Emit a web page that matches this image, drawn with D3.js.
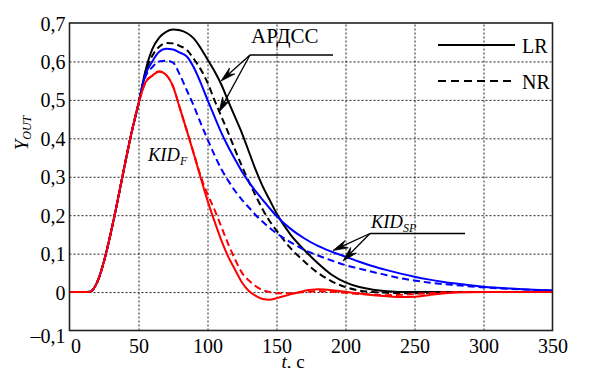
<!DOCTYPE html>
<html>
<head>
<meta charset="utf-8">
<script src="https://cdn.jsdelivr.net/npm/d3@7"></script>
<style>
  html, body { margin: 0; padding: 0; background: #fff; }
  svg { display: block; }
  svg text { font-family: "Liberation Serif", "DejaVu Serif", "Times New Roman", Times, serif !important; fill: #000; }
</style>
</head>
<body>
<svg id="chart" width="608" height="368"></svg>
<script>
// ---- data ----
const timeS = [0,10,15,20,25,30,35,40,45,50,55,60,65,70,75,80,85,90,95,100,105,110,115,120,125,130,135,140,145,150,160,170,180,190,200,210,220,230,240,250,260,270,280,300,320,350];
const rise = [0,0,0.001,0.025,0.08,0.155,0.24,0.33,0.415,0.49];

const lrArdss = rise.concat([0.575,0.632,0.662,0.677,0.683,0.681,0.674,0.66,0.635,0.605,0.575,0.54,0.497,0.455,0.413,0.365,0.317,0.275,0.24,0.205,0.15,0.11,0.075,0.045,0.025,0.013,0.006,0.002,0,0,0,0,0,0,0,0]);
const nrArdss = rise.concat([0.57,0.615,0.638,0.648,0.647,0.64,0.63,0.607,0.58,0.545,0.5,0.457,0.415,0.37,0.327,0.287,0.25,0.215,0.185,0.16,0.115,0.08,0.05,0.028,0.013,0.004,0,-0.002,-0.003,-0.003,-0.002,-0.001,0,0,0,0]);
const lrKidSp = rise.concat([0.565,0.6,0.625,0.633,0.631,0.623,0.613,0.585,0.545,0.5,0.457,0.415,0.378,0.345,0.313,0.286,0.262,0.24,0.218,0.198,0.165,0.14,0.12,0.105,0.092,0.079,0.067,0.057,0.048,0.04,0.033,0.027,0.022,0.014,0.009,0.004]);
const nrKidSp = rise.concat([0.56,0.585,0.6,0.602,0.597,0.565,0.525,0.485,0.44,0.398,0.357,0.32,0.29,0.263,0.24,0.22,0.2,0.183,0.167,0.153,0.13,0.11,0.095,0.082,0.07,0.061,0.052,0.044,0.036,0.03,0.025,0.021,0.018,0.012,0.008,0.004]);
const lrKidF = rise.concat([0.545,0.563,0.574,0.565,0.535,0.478,0.42,0.36,0.298,0.238,0.185,0.135,0.092,0.058,0.025,0.003,-0.01,-0.018,-0.02,-0.016,-0.006,0.003,0.007,0.005,0.001,-0.004,-0.008,-0.011,-0.013,-0.012,-0.008,-0.004,-0.001,0,0,0]);
const nrKidF = rise.concat([0.545,0.563,0.574,0.565,0.535,0.478,0.42,0.362,0.302,0.255,0.215,0.17,0.125,0.085,0.05,0.03,0.015,0.005,0,-0.003,-0.003,0,0.002,0.001,-0.002,-0.005,-0.007,-0.008,-0.007,-0.005,-0.003,-0.001,0,0,0,0]);

const xTicks = [0,50,100,150,200,250,300,350];
const yTicks = [-0.1,0,0.1,0.2,0.3,0.4,0.5,0.6,0.7];
const yTickLabels = ["\u20130,1","0","0,1","0,2","0,3","0,4","0,5","0,6","0,7"];
const legendNames = ["LR","NR"];

const seriesList = [
  {values: lrArdss, color: "#000000", dash: null},
  {values: nrArdss, color: "#000000", dash: "7,4"},
  {values: lrKidSp, color: "#0000ff", dash: null},
  {values: nrKidSp, color: "#0000ff", dash: "7,4"},
  {values: nrKidF,  color: "#ff0000", dash: "7,4"},
  {values: lrKidF,  color: "#ff0000", dash: null}
];

// ---- layout ----
const SERIF = "Liberation Serif";
const L = 69.5, R = 552.5, T = 23, B = 330.5;
const svg = d3.select("#chart");
const x = d3.scaleLinear().domain([0,350]).range([L,R]);
const y = d3.scaleLinear().domain([-0.1,0.7]).range([B,T]);

svg.append("defs").append("clipPath").attr("id","clip")
  .append("rect").attr("x",L).attr("y",T).attr("width",R-L).attr("height",B-T);

// grid
const gx = svg.append("g").attr("transform",`translate(0,${B})`)
  .call(d3.axisBottom(x).tickValues(xTicks.slice(1,-1)).tickSize(-(B-T)).tickFormat(""));
gx.select(".domain").remove();
gx.selectAll("line").attr("stroke","#222").attr("stroke-width",1).attr("stroke-dasharray","2,2");

const gy = svg.append("g").attr("transform",`translate(${L},0)`)
  .call(d3.axisLeft(y).tickValues(yTicks.slice(1,-1)).tickSize(-(R-L)).tickFormat(""));
gy.select(".domain").remove();
gy.selectAll("line").attr("stroke","#222").attr("stroke-width",1).attr("stroke-dasharray","2,2");

// tick labels
const ax = svg.append("g").attr("transform",`translate(0,${B})`)
  .call(d3.axisBottom(x).tickValues(xTicks).tickSize(0).tickPadding(0).tickFormat(d3.format("d")));
ax.attr("font-family",SERIF);
ax.select(".domain").remove();
ax.selectAll("text").attr("font-size",20)
  .attr("dy",null).attr("y",22)
  .attr("dx",(d)=> d===0 ? 6 : 0);

const ay = svg.append("g").attr("transform",`translate(${L},0)`)
  .call(d3.axisLeft(y).tickValues(yTicks).tickSize(0).tickPadding(4)
    .tickFormat((d,i)=>yTickLabels[i]));
ay.attr("font-family",SERIF);
ay.select(".domain").remove();
ay.selectAll("text").attr("font-size",20)
  .attr("dy",(d)=> d<0 ? "0.6em" : "0.35em");

// curves
const line = d3.line().x((d,i)=>x(timeS[i])).y(d=>y(d)).curve(d3.curveMonotoneX);
const plot = svg.append("g").attr("clip-path","url(#clip)");
seriesList.forEach(s=>{
  plot.append("path").datum(s.values)
    .attr("d",line)
    .attr("fill","none")
    .attr("stroke",s.color)
    .attr("stroke-width",2)
    .attr("stroke-dasharray",s.dash);
});

// frame
svg.append("rect").attr("x",L).attr("y",T).attr("width",R-L).attr("height",B-T)
  .attr("fill","none").attr("stroke","#222").attr("stroke-width",1.6);

// legend
const legY = [45, 81];
legendNames.forEach((n,i)=>{
  svg.append("line").attr("x1",438).attr("x2",515).attr("y1",legY[i]).attr("y2",legY[i])
    .attr("stroke","#000").attr("stroke-width",2)
    .attr("stroke-dasharray", i===1 ? "8,5" : null);
  svg.append("text").attr("x",522).attr("y",legY[i]+8).attr("font-size",20).text(n);
});

// annotations
function arrow(x0,y0,x1,y1){
  const ang = Math.atan2(y1-y0,x1-x0);
  const len = 15, w = 4;
  const bx = x1 - len*Math.cos(ang), by = y1 - len*Math.sin(ang);
  const nx = -Math.sin(ang), ny = Math.cos(ang);
  const mx = x1 - 0.65*len*Math.cos(ang), my = y1 - 0.65*len*Math.sin(ang);
  svg.append("line").attr("x1",x0).attr("y1",y0).attr("x2",mx).attr("y2",my)
    .attr("stroke","#000").attr("stroke-width",1.3);
  svg.append("path").attr("d",
    `M${x1},${y1} L${bx+nx*w},${by+ny*w} L${mx},${my} L${bx-nx*w},${by-ny*w} Z`)
    .attr("fill","#000").attr("stroke","#000").attr("stroke-width",0.8);
}

// АРДСС
svg.append("text").attr("x",251).attr("y",43).attr("font-size",21).text("АРДСС");
svg.append("line").attr("x1",250).attr("x2",333).attr("y1",55).attr("y2",55)
  .attr("stroke","#000").attr("stroke-width",1.3);
arrow(250,55,221,81);
arrow(250,55,219,112);

// KID_SP
const ksp = svg.append("text").attr("x",371).attr("y",228).attr("font-size",18.5).attr("font-style","italic");
ksp.append("tspan").text("KID");
ksp.append("tspan").attr("font-size",12).attr("dy",4).text("SP");
svg.append("line").attr("x1",370).attr("x2",465).attr("y1",233.5).attr("y2",233.5)
  .attr("stroke","#000").attr("stroke-width",1.3);
arrow(370,233.5,333,250.5);
arrow(370,233.5,343,261);

// KID_F
const kf = svg.append("text").attr("x",148).attr("y",161).attr("font-size",18.5).attr("font-style","italic");
kf.append("tspan").text("KID");
kf.append("tspan").attr("font-size",12).attr("dy",4).text("F");

// axis titles
const yt = svg.append("text").attr("transform","translate(28,133) rotate(-90)")
  .attr("text-anchor","middle").attr("font-size",19).attr("font-style","italic");
yt.append("tspan").text("Y");
yt.append("tspan").attr("font-size",12).attr("dy",3).text("OUT");

const xt = svg.append("text").attr("x",293).attr("y",368).attr("text-anchor","middle").attr("font-size",19);
xt.append("tspan").attr("font-style","italic").text("t");
xt.append("tspan").text(", c");
</script>
</body>
</html>
